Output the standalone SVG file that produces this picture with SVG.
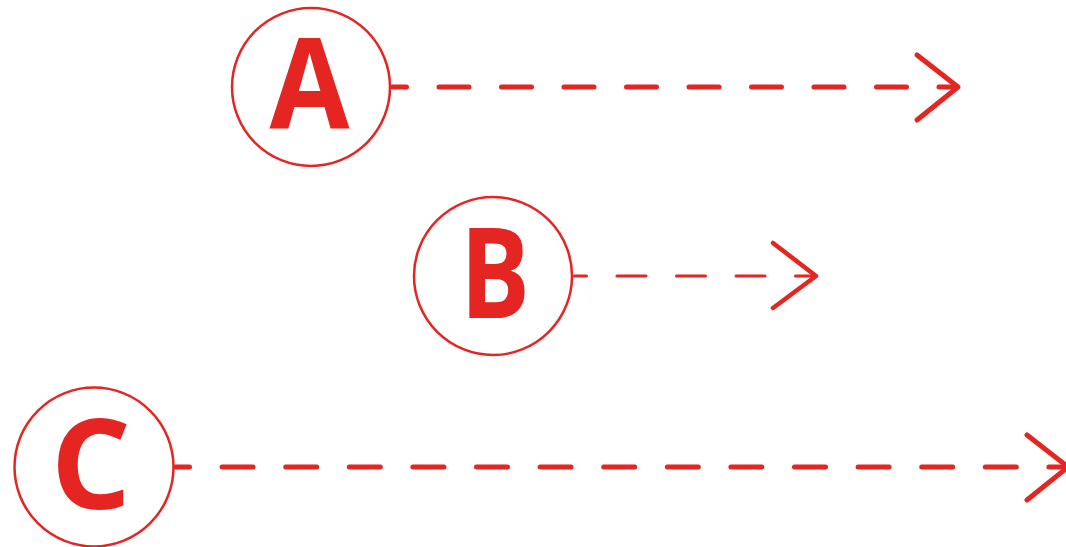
<svg xmlns="http://www.w3.org/2000/svg" width="1066" height="547" viewBox="0 0 1066 547">
<style>
.ring{fill:#fff;stroke:#e42521;stroke-width:2.5}
.lbl{fill:#e42521;font-family:"Open Sans","Noto Sans","Liberation Sans",sans-serif;font-weight:700;font-size:126px;text-anchor:middle}
.dash{fill:none;stroke:#e42521;stroke-linecap:round}
.head{fill:none;stroke:#e42521;stroke-linecap:round;stroke-linejoin:round}
</style>
<rect width="1066" height="547" fill="#fff"/>
<g id="connectors">
<line class="dash" x1="392.5" y1="87" x2="956" y2="87" stroke-width="5" stroke-dasharray="30 32.5" stroke-dashoffset="16"/>
<polyline class="head" points="917,55 958,87 917,120" stroke-width="5"/>
<line class="dash" x1="574.5" y1="276" x2="815" y2="276" stroke-width="3" stroke-dasharray="29 30.5" stroke-dashoffset="17"/>
<polyline class="head" points="773,243 816,276 773,308" stroke-width="4.5"/>
<line class="dash" x1="175.5" y1="467" x2="1066" y2="467" stroke-width="5" stroke-dasharray="31 32.6" stroke-dashoffset="17"/>
<polyline class="head" points="1027,435 1068,467 1027,500" stroke-width="5"/>
</g>
<g id="node-A">
<circle class="ring" cx="311" cy="87" r="79"/>
<text class="lbl" x="309.5" y="128" textLength="80" lengthAdjust="spacingAndGlyphs">A</text>
</g>
<g id="node-B">
<circle class="ring" cx="493" cy="276" r="79"/>
<text class="lbl" x="495" y="318" textLength="70" lengthAdjust="spacingAndGlyphs">B</text>
</g>
<g id="node-C">
<circle class="ring" cx="94" cy="467" r="79.5"/>
<text class="lbl" x="91" y="509">C</text>
</g>
</svg>
